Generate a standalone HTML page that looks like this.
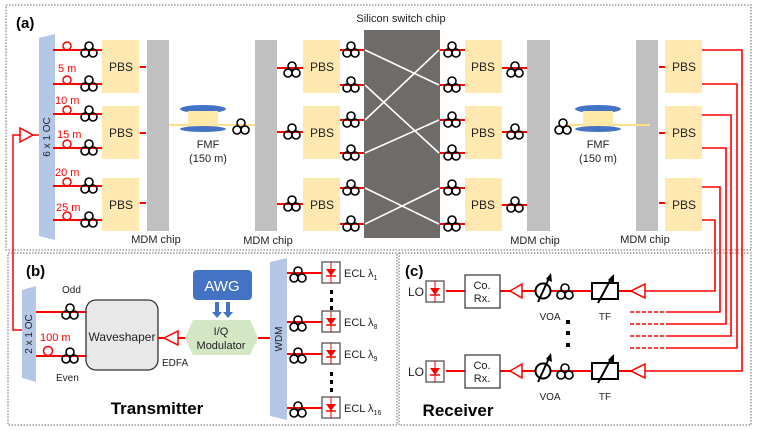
<!DOCTYPE html>
<html><head><style>body{margin:0;background:#fff}svg{display:block}text{font-family:"Liberation Sans",sans-serif}</style></head><body>
<svg width="757" height="431" viewBox="0 0 757 431" xmlns="http://www.w3.org/2000/svg">
<defs>
<g id="c" fill="none" stroke="#000" stroke-width="1.6"><circle cx="-4" cy="3" r="4"/><circle cx="4" cy="3" r="4"/><circle cx="0" cy="-4" r="4"/></g>
<g id="loop"><circle cx="0" cy="-4" r="4" fill="none" stroke="#f00" stroke-width="1.5"/></g>
<g id="ecl"><rect x="0" y="0" width="18" height="21" fill="#fff" stroke="#555" stroke-width="1.3"/><line x1="9" y1="0" x2="9" y2="21" stroke="#f00"/><polygon points="4,7 14,7 9,14" fill="#f00"/><line x1="4" y1="14" x2="14" y2="14" stroke="#f00" stroke-width="1.5"/></g>
</defs>
<g fill="none" stroke="#888" stroke-width="1.3" stroke-dasharray="1.5,1.5">
<rect x="6" y="5" width="745" height="245"/>
<rect x="8" y="253" width="389" height="172"/>
<rect x="399" y="253" width="352" height="172"/>
</g>
<text x="16" y="28" font-size="15" font-weight="bold">(a)</text>
<text x="26" y="276" font-size="15" font-weight="bold">(b)</text>
<text x="405" y="276" font-size="15" font-weight="bold">(c)</text>

<!-- EDFA left & line -->
<polyline points="22,330 13,330 13,135 20,135" fill="none" stroke="#f00" stroke-width="1.5"/>
<polygon points="20,128 20,142 33,135" fill="#fff" stroke="#f00" stroke-width="1.5"/>
<line x1="33" y1="135" x2="40" y2="135" stroke="#f00" stroke-width="1.5"/>
<!-- 6x1 OC -->
<polygon points="39,38 55,34 55,240 39,236" fill="#b4c7e7"/>
<text transform="translate(50,137) rotate(-90)" font-size="10" text-anchor="middle" fill="#222">6 x 1 OC</text>
<g stroke="#f00" stroke-width="2">
<line x1="53" y1="50" x2="102" y2="50"/><line x1="53" y1="84" x2="102" y2="84"/><line x1="53" y1="114" x2="102" y2="114"/><line x1="53" y1="148" x2="102" y2="148"/><line x1="53" y1="186" x2="102" y2="186"/><line x1="53" y1="220" x2="102" y2="220"/>
</g>
<use href="#loop" x="67" y="50"/><use href="#loop" x="67" y="84"/><use href="#loop" x="67" y="114"/><use href="#loop" x="67" y="148"/><use href="#loop" x="67" y="186"/><use href="#loop" x="67" y="220"/>
<use href="#c" x="89" y="50"/><use href="#c" x="89" y="84"/><use href="#c" x="89" y="114"/><use href="#c" x="89" y="148"/><use href="#c" x="89" y="186"/><use href="#c" x="89" y="220"/>
<g fill="#f00" font-size="11"><text x="58" y="72">5 m</text><text x="55" y="104">10 m</text><text x="57" y="138">15 m</text><text x="55" y="176">20 m</text><text x="56" y="211">25 m</text></g>

<!-- PBS blocks -->
<g fill="#ffe9b0">
<rect x="102" y="40" width="37" height="53"/><rect x="102" y="106" width="37" height="53"/><rect x="102" y="178" width="37" height="53"/>
<rect x="303" y="40" width="37" height="53"/><rect x="303" y="106" width="37" height="53"/><rect x="303" y="178" width="37" height="53"/>
<rect x="465" y="40" width="37" height="53"/><rect x="465" y="106" width="37" height="53"/><rect x="465" y="178" width="37" height="53"/>
<rect x="665" y="40" width="37" height="53"/><rect x="665" y="106" width="37" height="53"/><rect x="665" y="178" width="37" height="53"/>
</g>
<g font-size="12" text-anchor="middle" fill="#222">
<text x="121" y="71">PBS</text><text x="121" y="137">PBS</text><text x="121" y="209">PBS</text>
<text x="322" y="71">PBS</text><text x="322" y="137">PBS</text><text x="322" y="209">PBS</text>
<text x="483" y="71">PBS</text><text x="483" y="137">PBS</text><text x="483" y="209">PBS</text>
<text x="684" y="71">PBS</text><text x="684" y="137">PBS</text><text x="684" y="209">PBS</text>
</g>
<!-- MDM chips -->
<g fill="#c0c0c0"><rect x="147" y="40" width="22" height="191"/><rect x="255" y="40" width="22" height="191"/><rect x="527" y="40" width="23" height="191"/><rect x="636" y="40" width="22" height="191"/></g>
<g font-size="11" text-anchor="middle" fill="#222"><text x="156" y="243">MDM chip</text><text x="268" y="244">MDM chip</text><text x="535" y="244">MDM chip</text><text x="645" y="243">MDM chip</text></g>
<g stroke="#f00" stroke-width="2">
<line x1="140" y1="67" x2="146" y2="67"/><line x1="140" y1="133" x2="146" y2="133"/><line x1="140" y1="203" x2="146" y2="203"/>
<line x1="659" y1="67" x2="665" y2="67"/><line x1="659" y1="133" x2="665" y2="133"/><line x1="659" y1="203" x2="665" y2="203"/>
<line x1="277" y1="68" x2="303" y2="68"/><line x1="277" y1="132" x2="303" y2="132"/><line x1="277" y1="204" x2="303" y2="204"/>
<line x1="502" y1="68" x2="527" y2="68"/><line x1="502" y1="132" x2="527" y2="132"/><line x1="502" y1="205" x2="527" y2="205"/>
<line x1="340" y1="50" x2="366" y2="50"/><line x1="340" y1="85" x2="366" y2="85"/><line x1="340" y1="120" x2="366" y2="120"/><line x1="340" y1="153" x2="366" y2="153"/><line x1="340" y1="188" x2="366" y2="188"/><line x1="340" y1="224" x2="366" y2="224"/>
<line x1="439" y1="50" x2="465" y2="50"/><line x1="439" y1="85" x2="465" y2="85"/><line x1="439" y1="120" x2="465" y2="120"/><line x1="439" y1="153" x2="465" y2="153"/><line x1="439" y1="188" x2="465" y2="188"/><line x1="439" y1="224" x2="465" y2="224"/>
</g>
<!-- switch -->
<rect x="364" y="30" width="76" height="208" fill="#6f6b69"/>
<g stroke="#fff" stroke-width="1.6">
<line x1="365" y1="50" x2="439" y2="85"/><line x1="365" y1="85" x2="439" y2="153"/><line x1="365" y1="120" x2="439" y2="50"/><line x1="365" y1="153" x2="439" y2="120"/><line x1="365" y1="188" x2="439" y2="224"/><line x1="365" y1="224" x2="439" y2="188"/>
</g>
<text x="401" y="22" font-size="11" text-anchor="middle" fill="#222">Silicon switch chip</text>
<use href="#c" x="292" y="70"/><use href="#c" x="292" y="132"/><use href="#c" x="292" y="204"/>
<use href="#c" x="351" y="50"/><use href="#c" x="351" y="85"/><use href="#c" x="351" y="120"/><use href="#c" x="351" y="153"/><use href="#c" x="351" y="188"/><use href="#c" x="351" y="224"/>
<use href="#c" x="452" y="50"/><use href="#c" x="452" y="85"/><use href="#c" x="452" y="120"/><use href="#c" x="452" y="153"/><use href="#c" x="452" y="188"/><use href="#c" x="452" y="224"/>
<use href="#c" x="515" y="70"/><use href="#c" x="515" y="132"/><use href="#c" x="515" y="205"/>
<!-- FMF spools -->
<g id="sp">
<line x1="169" y1="125" x2="255" y2="125" stroke="#ffe08a" stroke-width="2"/>
<rect x="188" y="110" width="30" height="18" fill="#ffe9a8"/>
<ellipse cx="203" cy="109" rx="23" ry="4" fill="#4472c4"/>
<ellipse cx="203" cy="129" rx="23" ry="3" fill="#4472c4"/>
<rect x="188" y="111" width="30" height="15" fill="#ffe9a8"/>
</g>
<use href="#c" x="241" y="127"/>
<text x="208" y="148" font-size="11" text-anchor="middle" fill="#222">FMF</text>
<text x="208" y="162" font-size="11" text-anchor="middle" fill="#222">(150 m)</text>
<use href="#sp" x="395" y="0"/>
<use href="#c" x="563" y="127"/>
<text x="598" y="148" font-size="11" text-anchor="middle" fill="#222">FMF</text>
<text x="598" y="162" font-size="11" text-anchor="middle" fill="#222">(150 m)</text>

<!-- output red lines -->
<g fill="none" stroke="#f00" stroke-width="1.6">
<polyline points="702,50 742,50 742,371 645,371"/>
<polyline points="702,84 737,84 737,348 668,348"/>
<polyline points="702,115 731,115 731,336 668,336"/>
<polyline points="702,148 726,148 726,324 668,324"/>
<polyline points="702,187 720,187 720,312 668,312"/>
<polyline points="702,220 715,220 715,291 645,291"/>
<g stroke-dasharray="4,2"><line x1="630" y1="312" x2="668" y2="312"/><line x1="630" y1="324" x2="668" y2="324"/><line x1="630" y1="336" x2="668" y2="336"/><line x1="630" y1="348" x2="668" y2="348"/></g>
</g>

<!-- receiver rows -->
<g id="rx">
<line x1="446" y1="291" x2="645" y2="291" stroke="#f00" stroke-width="2"/>
<text x="408" y="296" font-size="12" fill="#222">LO</text>
<use href="#ecl" x="426" y="281"/>
<rect x="465" y="275" width="35" height="33" fill="#fff" stroke="#333" stroke-width="1.2"/>
<text x="482" y="289" font-size="11" text-anchor="middle" fill="#222">Co.</text>
<text x="482" y="302" font-size="11" text-anchor="middle" fill="#222">Rx.</text>
<polygon points="510,291 522,284 522,298" fill="#fff" stroke="#f00" stroke-width="1.5"/>
<circle cx="543" cy="291" r="7.5" fill="#fff" stroke="#000" stroke-width="2"/>
<line x1="538" y1="302" x2="550" y2="276" stroke="#000" stroke-width="2"/>
<polygon points="551,273 552,282 546,279" fill="#000"/>
<use href="#c" x="565" y="292"/>
<rect x="592" y="283" width="26" height="16" fill="#fff" stroke="#000" stroke-width="2"/>
<line x1="598" y1="303" x2="612" y2="277" stroke="#000" stroke-width="2"/>
<polygon points="614,274 614,283 608,280" fill="#000"/>
<polygon points="631,291 645,284 645,298" fill="#fff" stroke="#f00" stroke-width="1.5"/>
<text x="550" y="320" font-size="10" text-anchor="middle" fill="#222">VOA</text>
<text x="605" y="320" font-size="10" text-anchor="middle" fill="#222">TF</text>
</g>
<use href="#rx" y="80"/>
<g fill="#000"><rect x="566" y="320" width="4" height="4"/><rect x="566" y="331" width="4" height="4"/><rect x="566" y="343" width="4" height="4"/></g>
<text x="458" y="416" font-size="17" font-weight="bold" text-anchor="middle">Receiver</text>

<!-- transmitter -->
<polygon points="22,290 36,286 36,382 22,378" fill="#b4c7e7"/>
<text transform="translate(32,334) rotate(-90)" font-size="10" text-anchor="middle" fill="#222">2 x 1 OC</text>
<line x1="36" y1="312" x2="86" y2="312" stroke="#f00" stroke-width="2"/>
<line x1="36" y1="356" x2="86" y2="356" stroke="#f00" stroke-width="2"/>
<circle cx="48" cy="351" r="4.5" fill="none" stroke="#f00" stroke-width="1.5"/>
<use href="#c" x="70" y="312"/><use href="#c" x="70" y="356"/>
<text x="62" y="293" font-size="10" fill="#222">Odd</text>
<text x="56" y="381" font-size="10" fill="#222">Even</text>
<text x="40" y="341" font-size="11" fill="#f00">100 m</text>
<rect x="86" y="300" width="72" height="70" rx="10" fill="#e8e8e8" stroke="#333" stroke-width="1.3"/>
<text x="122" y="341" font-size="12" text-anchor="middle" fill="#222">Waveshaper</text>
<line x1="158" y1="338" x2="186" y2="338" stroke="#f00" stroke-width="2"/>
<polygon points="164,338 178,331 178,345" fill="#fff" stroke="#f00" stroke-width="1.5"/>
<text x="162" y="366" font-size="10" fill="#222">EDFA</text>
<polygon points="185,338 193,320 250,320 258,338 250,355 193,355" fill="#d3e7c4"/>
<text x="221" y="335" font-size="11" text-anchor="middle" fill="#222">I/Q</text>
<text x="221" y="349" font-size="11" text-anchor="middle" fill="#222">Modulator</text>
<rect x="193" y="270" width="59" height="30" rx="4" fill="#4472c4"/>
<text x="222" y="291" font-size="15" text-anchor="middle" fill="#fff">AWG</text>
<g fill="#4472c4"><rect x="215" y="302" width="4" height="10"/><polygon points="212,312 222,312 217,318"/><rect x="226" y="302" width="4" height="10"/><polygon points="223,312 233,312 228,318"/></g>
<line x1="258" y1="338" x2="271" y2="338" stroke="#f00" stroke-width="2"/>
<polygon points="270,262 287,258 287,420 270,416" fill="#b4c7e7"/>
<text transform="translate(282,339) rotate(-90)" font-size="10" text-anchor="middle" fill="#222">WDM</text>
<g stroke="#f00" stroke-width="2"><line x1="287" y1="273" x2="322" y2="273"/><line x1="287" y1="322" x2="322" y2="322"/><line x1="287" y1="354" x2="322" y2="354"/><line x1="287" y1="408" x2="322" y2="408"/></g>
<use href="#c" x="298" y="275"/><use href="#c" x="298" y="324"/><use href="#c" x="298" y="356"/><use href="#c" x="298" y="410"/>
<use href="#ecl" x="322" y="262"/><use href="#ecl" x="322" y="311"/><use href="#ecl" x="322" y="343"/><use href="#ecl" x="322" y="397"/>
<g font-size="11" fill="#222"><text x="344" y="277">ECL λ<tspan font-size="7" dy="3">1</tspan></text><text x="344" y="326">ECL λ<tspan font-size="7" dy="3">8</tspan></text><text x="344" y="358">ECL λ<tspan font-size="7" dy="3">9</tspan></text><text x="344" y="412">ECL λ<tspan font-size="7" dy="3">16</tspan></text></g>
<g fill="#000"><rect x="330" y="290" width="3" height="4"/><rect x="330" y="298" width="3" height="4"/><rect x="330" y="306" width="3" height="4"/><rect x="330" y="372" width="3" height="4"/><rect x="330" y="380" width="3" height="4"/><rect x="330" y="388" width="3" height="4"/></g>
<text x="157" y="414" font-size="17" font-weight="bold" text-anchor="middle">Transmitter</text>
</svg>
</body></html>
